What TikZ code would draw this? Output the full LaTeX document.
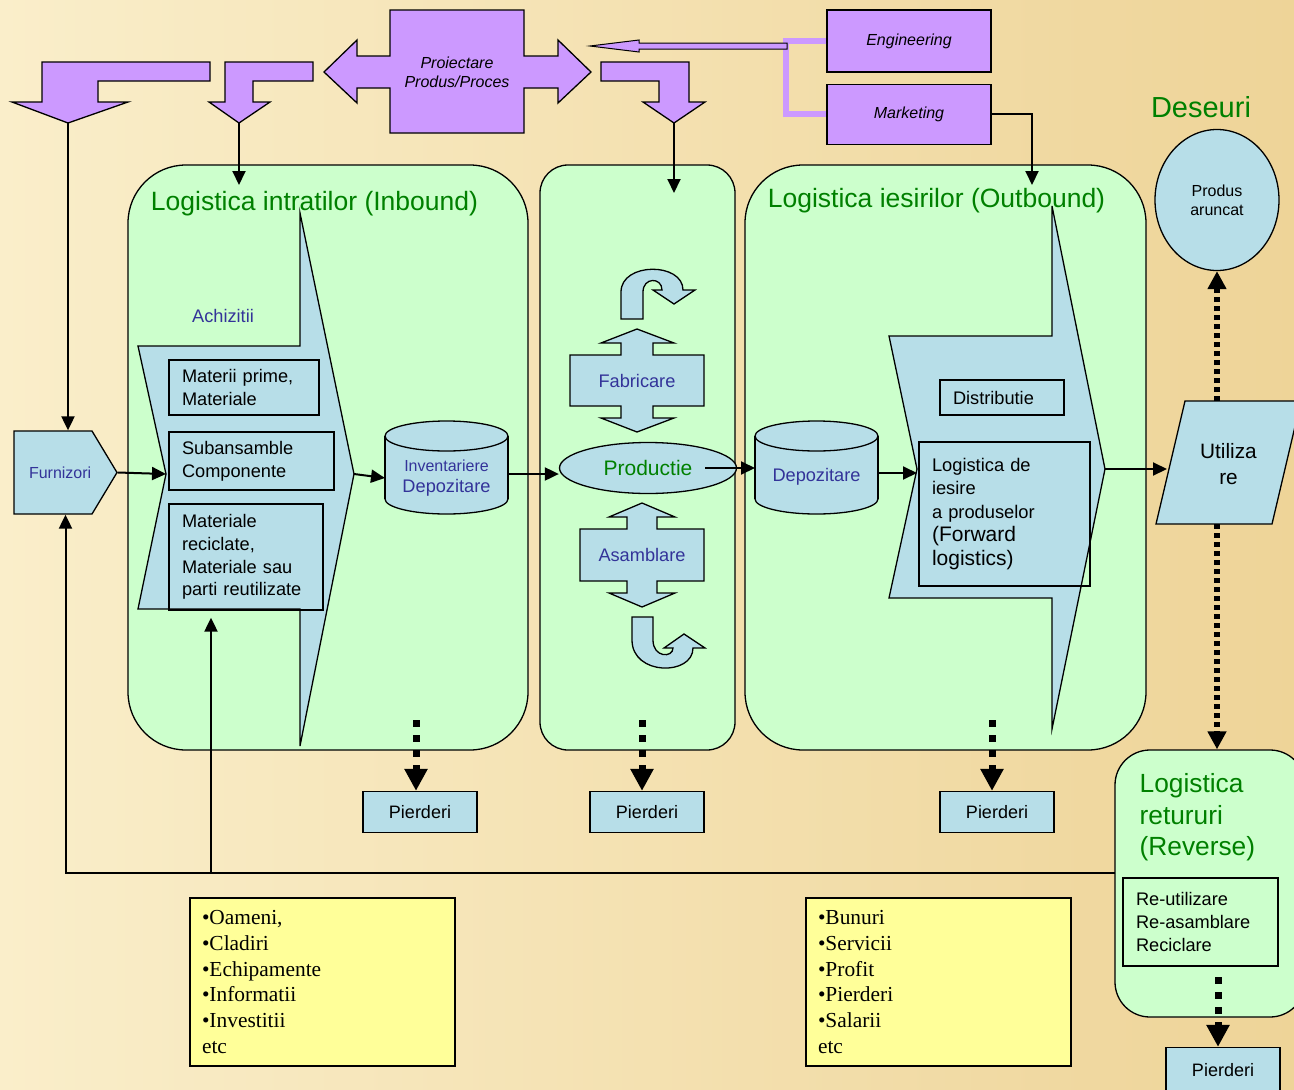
\documentclass[tikz,border=0pt]{standalone}
\usepackage{fontspec}
\setmainfont{Liberation Sans}
\newfontfamily\timesfont{Liberation Serif}
\usetikzlibrary{arrows.meta,shapes,positioning}

\definecolor{lila}{RGB}{204,153,255}
\definecolor{paleblue}{RGB}{183,222,232}
\definecolor{palegreen}{RGB}{204,255,204}
\definecolor{paleyellow}{RGB}{255,255,153}
\definecolor{textblue}{RGB}{51,51,153}
\definecolor{textgreen}{RGB}{0,128,0}
\definecolor{sandlight}{RGB}{250,238,202}
\definecolor{sanddark}{RGB}{238,212,152}

\begin{document}
\begin{tikzpicture}[x=1pt,y=-1pt,line width=1.3pt,>={Triangle[length=14pt,width=13pt]},
    lila shape/.style={draw,fill=lila},
    blue shape/.style={draw,fill=paleblue},
    lila box/.style={lila shape,rectangle,minimum width=164pt,inner sep=0pt,font=\fontsize{16}{19}\selectfont\itshape},
    panel/.style={draw,fill=palegreen,rectangle,rounded corners=#1,inner sep=0pt},
    item box/.style={draw,rectangle,align=left,inner sep=0pt,inner xsep=13pt,text width=#1,font=\fontsize{18.2}{22.7}\selectfont},
    loss box/.style={blue shape,rectangle,minimum width=114pt,minimum height=41pt,inner sep=0pt,font=\fontsize{18}{22}\selectfont},
    list box/.style={draw,fill=paleyellow,rectangle,align=left,inner sep=0pt,inner xsep=12pt,text width=241pt,minimum height=168pt,font=\timesfont\fontsize{21.4}{25.8}\selectfont},
    title/.style={text=textgreen,inner sep=0pt,font=\fontsize{26.5}{32}\selectfont},
    blue text/.style={text=textblue,inner sep=0pt,font=\fontsize{18.2}{22}\selectfont},
    conn/.style={->,line width=2pt},
    loss/.style={->,>={Triangle[length=22pt,width=22pt]},line width=7pt,dash pattern=on 7pt off 8pt},
    waste/.style={->,>={Triangle[length=18pt,width=18pt]},line width=6pt,dash pattern=on 5pt off 4pt}]

    \shade[left color=sandlight,right color=sanddark] (0,0) rectangle (1294,1090);
    \useasboundingbox (0,0) rectangle (1294,1090);

    \coordinate (t1) at (68,123);
    \coordinate (t2) at (239,123);
    \coordinate (t3) at (674,123);
    \coordinate (e2) at (239,185);
    \coordinate (e3) at (674,193);
    \coordinate (e4) at (1032,185);
    \coordinate (a1) at (166,474);
    \coordinate (a2) at (354,474);
    \coordinate (o1) at (917,469);
    \coordinate (o2) at (1105,469);
    \coordinate (c7) at (705,468);
    \coordinate (u1) at (1167,469);
    \coordinate (u2) at (1217,401);
    \coordinate (u3) at (1217,524);
    \coordinate (c4) at (1115,873);
    \coordinate (c5) at (211,873);
    \coordinate (d1) at (416,720);
    \coordinate (d2) at (642,720);
    \coordinate (d3) at (992,720);
    \coordinate (d4) at (1218,977);

    \node[panel=58pt,minimum width=400pt,minimum height=585pt] (30) at (328,457.5) {};
    \node[panel=28pt,minimum width=195pt,minimum height=585pt] (31) at (637.5,457.5) {};
    \node[panel=58pt,minimum width=401pt,minimum height=585pt] (32) at (945.5,457.5) {};
    \node[panel=35pt,minimum width=190pt,minimum height=267pt] (19) at (1210,883.5) {};
    \node[title] (33) at (314.5,204) {Logistica intratilor (Inbound)};
    \node[title] (34) at (936.5,201) {Logistica iesirilor (Outbound)};

    % top
    \draw[lila shape] (210,62) -- (42,62) -- (42,102) -- (12,102) -- (t1) -- (128,102) -- (98,102) -- (98,81) -- (210,81) -- cycle;
    \draw[lila shape] (313,62) -- (225,62) -- (225,102) -- (209,102) -- (t2) -- (270,102) -- (253,102) -- (253,81) -- (313,81) -- cycle;
    \draw[lila shape] (601,62) -- (689,62) -- (689,102) -- (705,102) -- (t3) -- (643,102) -- (659,102) -- (659,81) -- (601,81) -- cycle;
    \draw[lila shape] (390,10) -- (524,10) -- (524,56) -- (558,56) -- (558,40) -- (591,72) -- (558,103) -- (558,88) -- (524,88) -- (524,133)
        -- (390,133) -- (390,88) -- (357,88) -- (357,103) -- (324,72) -- (357,40) -- (357,56) -- (390,56) -- cycle;
    \node[font=\fontsize{16}{19}\selectfont\itshape,align=center,inner sep=0pt] (1) at (457,72) {Proiectare\\Produs/Proces};

    \node[lila box,minimum height=62pt] (2) at (909,41) {Engineering};
    \node[lila box,minimum height=60pt] (3) [below=11pt of 2] {Marketing};
    \draw[lila,line width=6pt] (2.west) -- ++(-40,0) |- (3.west);
    \draw[lila shape,line width=1pt] (787,43) -- (639,43) -- (639,40) -- (590,46) -- (639,52) -- (639,49) -- (787,49) -- cycle;

    % intrari
    \draw[blue shape] (14,431) -- (92,431) -- (117,472.5) -- (92,514) -- (14,514) -- cycle;
    \node[rectangle,minimum width=103pt,minimum height=83pt,inner sep=0pt,inner xsep=15pt,text width=73pt,align=left,
        text=textblue,font=\fontsize{16}{19}\selectfont] (4) at (65.5,472.5) {Furnizori};
    \draw[blue shape] (300,213) -- (300,346) -- (138,346) -- (a1) -- (138,609) -- (300,609) -- (300,746) -- (a2) -- cycle;
    \node[blue text] (5) at (223,316) {Achizitii};
    \node[item box=124pt,minimum height=55pt] (6) at (244,387.5) {Materii prime,\\Materiale};
    \node[item box=139pt,minimum height=58pt] (7) at (251.5,461) {Subansamble\\Componente};
    \node[item box=128pt,minimum height=106pt] (8) at (246,557) {Materiale\\reciclate,\\Materiale sau\\parti reutilizate};

    \draw[blue shape] (446.5,499) ellipse [x radius=61.5pt,y radius=15pt];
    \fill[paleblue] (385,436) rectangle (508,499);
    \draw (385,436) -- (385,499) (508,436) -- (508,499);
    \draw[blue shape] (446.5,436) ellipse [x radius=61.5pt,y radius=15pt];
    \node[blue text,align=center,font=\fontsize{18.2}{21}\selectfont] (9) at (446.5,478)
        {{\fontsize{16}{21}\selectfont Inventariere}\\Depozitare};

    % productie
    \draw[blue shape] (621,319) -- (621,292) .. controls (621,262) and (683,262) .. (683,290) -- (695,290) -- (674,304) -- (653,290)
        -- (662,290) .. controls (662,277) and (643,277) .. (643,292) -- (643,319) -- cycle;
    \draw[blue shape] (570,355) -- (621,355) -- (621,343) -- (601,343) -- (637,329) -- (674,343) -- (653,343) -- (653,355) -- (704,355)
        -- (704,406) -- (653,406) -- (653,418) -- (674,418) -- (637,432) -- (601,418) -- (621,418) -- (621,406) -- (570,406) -- cycle;
    \node[blue text] (10) at (637,381) {Fabricare};
    \node[blue shape,ellipse,minimum width=177pt,minimum height=51pt,inner sep=0pt,text=textgreen,
        font=\fontsize{21}{25}\selectfont] (11) at (648,468) {Productie};
    \draw[blue shape] (580,529) -- (627,529) -- (627,517) -- (609,517) -- (642,503) -- (675,517) -- (657,517) -- (657,529) -- (704,529)
        -- (704,581) -- (657,581) -- (657,593) -- (675,593) -- (642,607) -- (609,593) -- (627,593) -- (627,581) -- (580,581) -- cycle;
    \node[blue text] (12) at (642,555) {Asamblare};
    \draw[blue shape] (632,617) -- (653,617) -- (653,640) .. controls (653,658) and (673,658) .. (673,648) -- (664,648) -- (684,634)
        -- (705,648) -- (693,648) .. controls (693,676) and (632,676) .. (632,640) -- cycle;

    % iesiri
    \draw[blue shape] (816.5,499) ellipse [x radius=61.5pt,y radius=15pt];
    \fill[paleblue] (755,436) rectangle (878,499);
    \draw (755,436) -- (755,499) (878,436) -- (878,499);
    \draw[blue shape] (816.5,436) ellipse [x radius=61.5pt,y radius=15pt];
    \node[blue text] (13) at (816.5,477) {Depozitare};
    \draw[blue shape] (1052,206) -- (1052,336) -- (889,336) -- (o1) -- (889,598) -- (1052,598) -- (1052,729) -- (o2) -- cycle;
    \node[item box=98pt,minimum height=35pt] (14) at (1002,397.5) {Distributie};
    \node[item box=145pt,minimum height=144pt,font=\fontsize{18.3}{23.5}\selectfont] (15) at (1004.5,514)
        {Logistica de\\iesire\\a produselor\\{\fontsize{21}{23.5}\selectfont(Forward\\logistics)}};

    \draw[blue shape] (1185,401) -- (1301,401) -- (1272,524) -- (1156,524) -- cycle;
    \node[align=center,inner sep=0pt,font=\fontsize{20.8}{25.5}\selectfont] (16) at (1228.5,464) {Utiliza\\re};
    \node[blue shape,ellipse,minimum width=124pt,minimum height=141pt,inner sep=0pt,align=center,
        font=\fontsize{16}{19}\selectfont] (17) at (1217,200) {Produs\\aruncat};
    \node[title,font=\fontsize{29}{32}\selectfont] (18) at (1201,107) {Deseuri};

    % retururi
    \node[title,align=left,anchor=north west,font=\fontsize{26.3}{31.5}\selectfont] (35) at (1139,773) {Logistica\\retururi\\(Reverse)};
    \node[item box=129pt,minimum height=88pt] (20) at (1200.5,922) {Re-utilizare\\Re-asamblare\\Reciclare};

    \node[loss box] (21) at (420,812) {Pierderi};
    \node[loss box] (22) at (647,812) {Pierderi};
    \node[loss box] (23) at (997,812) {Pierderi};
    \node[loss box,minimum height=45pt] (24) at (1223,1070) {Pierderi};

    \node[list box] (25) at (322.5,982) {•Oameni,\\•Cladiri\\•Echipamente\\•Informatii\\•Investitii\\etc};
    \node[list box] (26) at (938.5,982) {•Bunuri\\•Servicii\\•Profit\\•Pierderi\\•Salarii\\etc};

    % \path (4) edge (6);
    \draw[conn] (t1) -- (t1 |- 4.north);
    \draw[conn] (t2) -- (e2);
    \draw[conn] (t3) -- (e3);
    \draw[conn] (3.east) -| (e4);
    \draw[conn] (4.east) -- (a1);
    \draw[conn] (a2) -- (9.west -| 385,0);
    \draw[conn] (508,474) -- (508,474 -| 11.west);
    \draw[conn] (c7) -- (c7 -| 755,0);
    \draw[conn] (878,473) -- (878,473 -| o1);
    \draw[conn] (o2) -- (u1);
    \draw[waste] (u2) -- (17.south);
    \draw[waste] (u3) -- (u3 |- 19.north);
    \draw[loss] (d1) -- (d1 |- 21.north);
    \draw[loss] (d2) -- (d2 |- 22.north);
    \draw[loss] (d3) -- (d3 |- 23.north);
    \draw[loss] (d4) -- (d4 |- 24.north);
    \draw[conn] (c4) -| (4.south);
    \draw[conn,shorten >=7pt] (c5) -- (c5 |- 8.south);
\end{tikzpicture}
\end{document}
